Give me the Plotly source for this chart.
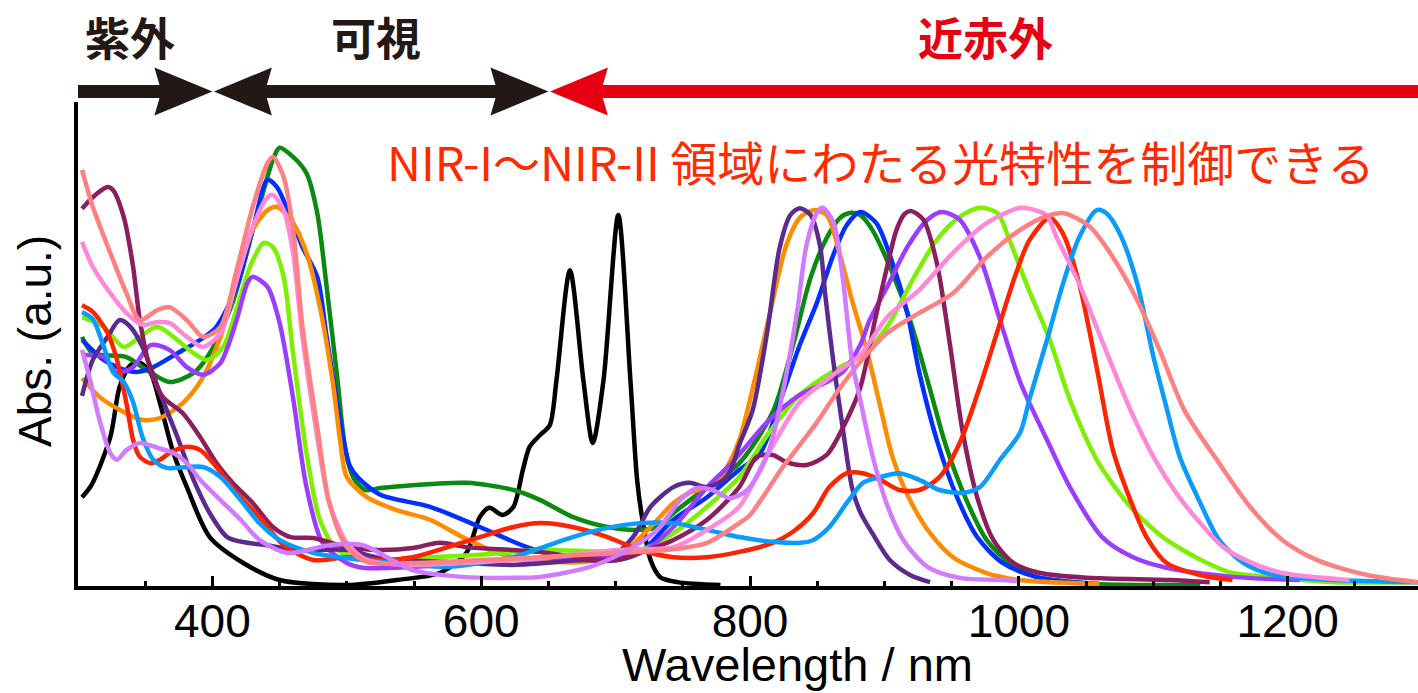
import plotly.graph_objects as go

# ---------------- data (wavelength nm, normalised absorbance) ----------------
black_nm = [303,310,324,331,339,346,354,361,371,381,398,423,450,500,537,569,589,599,606,616,624,631,636,644,651,656,666,676,683,691,702,711,716,720,726,733,746,778]
black_ab = [0.185,0.21,0.31,0.415,0.46,0.465,0.444,0.381,0.277,0.206,0.102,0.048,0.0125,0.002,0.0125,0.027,0.069,0.144,0.163,0.148,0.165,0.242,0.29,0.315,0.335,0.429,0.658,0.429,0.298,0.429,0.773,0.429,0.221,0.1375,0.054,0.019,0.008,0.002]

green_nm = [303,311,336,351,368,386,398,415,430,445,450,460,470,478,485,493,499,505,514,525,549,589,624,644,668,694,718,731,743,768,792,817,832,845,857,867,874,882,891,906,919,932,946,961,976,993,1013,1045,1135]
green_ab = [0.519,0.485,0.477,0.450,0.425,0.444,0.485,0.590,0.742,0.888,0.913,0.894,0.860,0.777,0.623,0.431,0.283,0.225,0.200,0.204,0.210,0.215,0.200,0.179,0.144,0.123,0.117,0.123,0.152,0.206,0.256,0.363,0.502,0.642,0.725,0.767,0.777,0.773,0.742,0.652,0.554,0.429,0.290,0.179,0.096,0.048,0.019,0.006,0.002]

blue_nm = [303,319,331,344,356,374,391,403,418,430,441,448,458,467,478,485,495,502,508,525,562,599,636,676,701,718,743,768,792,807,824,837,850,862,872,882,894,906,917,926,939,954,969,988,1013,1060]
blue_ab = [0.513,0.471,0.454,0.446,0.456,0.485,0.513,0.540,0.623,0.742,0.846,0.831,0.769,0.706,0.644,0.519,0.346,0.252,0.227,0.190,0.165,0.123,0.079,0.054,0.054,0.069,0.138,0.185,0.242,0.273,0.398,0.502,0.592,0.690,0.752,0.779,0.756,0.673,0.569,0.444,0.304,0.185,0.102,0.048,0.019,0.004]

orange_nm = [303,316,331,348,361,378,393,406,418,430,441,448,460,470,480,490,495,500,515,537,562,586,612,636,676,705,731,743,755,768,780,792,802,815,827,837,847,857,867,876,887,897,906,919,934,951,976,1001,1060]
orange_ab = [0.433,0.394,0.367,0.346,0.350,0.381,0.435,0.519,0.638,0.742,0.783,0.790,0.756,0.694,0.581,0.415,0.304,0.227,0.185,0.158,0.138,0.102,0.069,0.054,0.050,0.069,0.138,0.173,0.194,0.206,0.235,0.304,0.412,0.571,0.710,0.767,0.783,0.773,0.689,0.594,0.490,0.373,0.269,0.179,0.110,0.060,0.027,0.0125,0.004]

lime_nm = [303,319,334,346,359,371,386,396,408,418,428,438,445,453,460,470,480,493,515,549,599,644,718,743,768,792,813,837,867,882,902,921,939,956,971,984,993,1006,1023,1038,1058,1083,1107,1122,1140,1159,1196,1234,1297]
lime_ab = [0.560,0.540,0.498,0.519,0.540,0.519,0.485,0.471,0.498,0.577,0.665,0.715,0.706,0.644,0.485,0.277,0.138,0.075,0.054,0.058,0.065,0.075,0.075,0.110,0.165,0.227,0.315,0.398,0.456,0.477,0.540,0.638,0.721,0.769,0.788,0.777,0.721,0.627,0.513,0.388,0.263,0.165,0.102,0.075,0.048,0.027,0.017,0.008,0.008]

violet_nm = [303,319,329,341,354,368,381,393,406,418,426,430,441,450,460,470,482,500,512,549,599,644,718,743,768,787,813,837,857,869,882,889,902,917,932,943,956,971,986,1001,1021,1038,1062,1085,1110,1159,1209]
violet_ab = [0.481,0.477,0.444,0.456,0.502,0.492,0.456,0.440,0.465,0.554,0.631,0.644,0.623,0.548,0.392,0.206,0.090,0.048,0.038,0.040,0.050,0.058,0.069,0.123,0.206,0.258,0.342,0.398,0.425,0.446,0.502,0.554,0.623,0.706,0.763,0.779,0.763,0.685,0.554,0.425,0.304,0.206,0.102,0.060,0.038,0.019,0.0125]

indigo_nm = [303,311,322,331,339,348,361,374,386,398,411,426,441,460,500,525,575,624,676,694,713,726,743,755,768,783,792,802,813,822,830,837,845,852,856,862,869,876,882,891,904,919,934]
indigo_ab = [0.396,0.471,0.519,0.554,0.540,0.498,0.402,0.310,0.221,0.152,0.102,0.090,0.085,0.075,0.075,0.058,0.050,0.044,0.054,0.054,0.102,0.165,0.206,0.215,0.206,0.227,0.294,0.367,0.533,0.704,0.773,0.787,0.773,0.710,0.606,0.467,0.329,0.204,0.154,0.110,0.054,0.023,0.008]

maroon_nm = [303,311,322,326,334,341,346,354,363,378,391,403,415,430,445,458,475,500,525,549,569,589,624,644,676,701,718,743,768,792,805,817,827,842,857,869,882,893,902,909,915,920,929,939,949,958,969,981,996,1016,1051,1112,1142]
maroon_ab = [0.786,0.810,0.831,0.825,0.769,0.665,0.554,0.450,0.394,0.360,0.310,0.256,0.215,0.173,0.123,0.102,0.100,0.081,0.075,0.079,0.090,0.081,0.075,0.071,0.058,0.054,0.069,0.096,0.138,0.206,0.269,0.273,0.258,0.252,0.273,0.329,0.413,0.554,0.665,0.742,0.775,0.781,0.763,0.673,0.498,0.325,0.185,0.096,0.048,0.027,0.017,0.0125,0.008]

red_nm = [303,311,322,329,336,341,346,354,361,368,381,391,403,418,435,453,475,500,525,549,575,599,624,644,668,694,718,743,768,792,817,832,847,859,872,884,897,911,926,941,956,971,986,998,1008,1023,1033,1045,1058,1070,1083,1095,1110,1135,1159]
red_ab = [0.585,0.571,0.527,0.471,0.381,0.304,0.269,0.256,0.263,0.277,0.290,0.283,0.248,0.194,0.144,0.085,0.054,0.060,0.054,0.060,0.081,0.102,0.123,0.131,0.123,0.102,0.075,0.060,0.060,0.071,0.090,0.113,0.152,0.206,0.235,0.235,0.221,0.200,0.200,0.227,0.298,0.415,0.548,0.652,0.721,0.767,0.733,0.629,0.454,0.283,0.179,0.102,0.048,0.023,0.0125]

sky_nm = [303,311,319,326,334,341,348,356,366,381,393,406,421,435,450,475,512,549,575,599,624,644,668,694,718,743,768,792,817,837,847,859,872,884,897,911,926,941,958,971,986,1001,1008,1021,1033,1045,1058,1065,1075,1088,1100,1109,1120,1135,1149,1167,1189,1234,1297]
sky_ab = [0.571,0.556,0.500,0.446,0.425,0.383,0.310,0.263,0.246,0.248,0.248,0.227,0.179,0.131,0.096,0.069,0.054,0.044,0.040,0.048,0.060,0.079,0.102,0.121,0.131,0.131,0.117,0.102,0.092,0.090,0.096,0.123,0.173,0.215,0.227,0.235,0.221,0.200,0.194,0.206,0.263,0.320,0.390,0.513,0.631,0.727,0.783,0.777,0.735,0.631,0.479,0.381,0.267,0.173,0.096,0.048,0.023,0.0125,0.008]

pink_nm = [303,311,324,336,348,359,368,381,393,406,418,430,441,445,453,460,467,478,487,500,515,549,599,644,701,743,768,792,813,837,862,882,902,926,951,976,1001,1012,1021,1028,1045,1062,1083,1101,1118,1135,1152,1172,1196,1246]
pink_ab = [0.717,0.665,0.610,0.569,0.544,0.550,0.548,0.519,0.498,0.527,0.638,0.748,0.810,0.815,0.783,0.694,0.519,0.310,0.173,0.090,0.054,0.044,0.050,0.058,0.075,0.081,0.117,0.165,0.273,0.383,0.440,0.481,0.560,0.617,0.694,0.756,0.788,0.783,0.771,0.727,0.629,0.510,0.367,0.265,0.190,0.131,0.081,0.050,0.027,0.0125]

salmon_nm = [303,311,324,336,346,359,368,381,393,406,418,430,441,445,453,460,467,478,487,500,515,549,599,644,701,738,768,792,800,824,850,867,882,902,926,951,976,1001,1021,1033,1053,1070,1088,1105,1123,1149,1172,1196,1222,1259,1297]
salmon_ab = [0.867,0.790,0.694,0.610,0.554,0.575,0.581,0.554,0.519,0.540,0.658,0.790,0.881,0.894,0.852,0.742,0.540,0.331,0.173,0.081,0.050,0.048,0.054,0.060,0.069,0.075,0.090,0.131,0.148,0.246,0.342,0.413,0.467,0.527,0.569,0.610,0.685,0.742,0.771,0.777,0.748,0.685,0.596,0.490,0.367,0.256,0.165,0.096,0.054,0.023,0.008]

lavender_nm = [303,309,316,324,329,336,346,359,371,381,391,406,421,435,456,487,512,530,549,586,624,644,681,705,731,748,760,772,785,798,813,824,835,842,850,854,862,869,876,882,891,902,914,932,956,988,1001]
lavender_ab = [0.492,0.429,0.346,0.277,0.263,0.283,0.298,0.288,0.277,0.256,0.221,0.179,0.138,0.096,0.069,0.085,0.085,0.060,0.033,0.019,0.017,0.019,0.040,0.069,0.117,0.179,0.204,0.200,0.183,0.200,0.273,0.398,0.571,0.710,0.779,0.788,0.758,0.642,0.467,0.388,0.273,0.169,0.096,0.040,0.017,0.0125,0.010]

tick_vals = [400, 600, 800, 1000, 1200]
tick_text = ["400", "600", "800", "1000", "1200"]

region_labels = ["紫外", "可視", "近赤外"]
region_bounds = [(300, 400), (400, 650), (650, 1297)]
region_label_nm = [339, 522, 975]
note_text = "NIR-I〜NIR-II 領域にわたる光特性を制御できる"

# ---------------- figure ----------------
series = [
    (black_nm, black_ab, "#000000"),
    (green_nm, green_ab, "#0B8A12"),
    (blue_nm, blue_ab, "#0030FF"),
    (orange_nm, orange_ab, "#FF8C00"),
    (lime_nm, lime_ab, "#7CF000"),
    (violet_nm, violet_ab, "#9B3CFF"),
    (indigo_nm, indigo_ab, "#5B2A8E"),
    (maroon_nm, maroon_ab, "#8B1E5E"),
    (red_nm, red_ab, "#FF2400"),
    (sky_nm, sky_ab, "#0A9BFF"),
    (pink_nm, pink_ab, "#FF88D8"),
    (salmon_nm, salmon_ab, "#FF8080"),
    (lavender_nm, lavender_ab, "#D27BFF"),
]

fig = go.Figure()
for xs, ys, col in series:
    assert len(xs) == len(ys)
    fig.add_trace(go.Scatter(x=xs, y=ys, mode="lines",
                             line=dict(color=col, width=4.5, shape="spline", smoothing=0.8),
                             hoverinfo="skip", showlegend=False))

X0, X1 = 300, 1297
W, H = 1418, 693
ML, MR, MT, MB = 78, 0, 102, 107
PW = W - ML - MR
PH = H - MT - MB
Y1 = PH / 480.0

def paper_x(nm):
    return (nm - X0) / (X1 - X0)

bar_y = 1 + 10.5 / PH   # arrow line centre, above plot top
BLACK = "#231815"
RED = "#E60012"

shapes = []
head_r = "M0,0 L-58,24 L-51,0 L-58,-24 Z"
head_l = "M0,0 L58,24 L51,0 L58,-24 Z"

def bar(x0, x1, color):
    shapes.append(dict(type="rect", xref="paper", yref="paper", x0=x0, x1=x1,
                       ysizemode="pixel", yanchor=bar_y, y0=-6.5, y1=6.5,
                       fillcolor=color, line=dict(width=0), layer="above"))

def head(tip, path, color):
    shapes.append(dict(type="path", xref="paper", yref="paper",
                       xsizemode="pixel", ysizemode="pixel",
                       xanchor=tip, yanchor=bar_y, path=path,
                       fillcolor=color, line=dict(width=0), layer="above"))

(a0, a1), (b0, b1), (c0, c1) = region_bounds
bar(paper_x(a0), paper_x(a1) - 30 / PW, BLACK)
head(paper_x(a1), head_r, BLACK)
bar(paper_x(b0) + 30 / PW, paper_x(b1) - 30 / PW, BLACK)
head(paper_x(b0) + 1.5 / PW, head_l, BLACK)
head(paper_x(b1), head_r, BLACK)
bar(paper_x(c0) + 30 / PW, 1.01, RED)
head(paper_x(c0) + 1.5 / PW, head_l, RED)

annotations = []
for lab, nm, col in zip(region_labels, region_label_nm, [BLACK, BLACK, RED]):
    annotations.append(dict(text="<b>" + lab + "</b>", x=paper_x(nm), y=1 + 66 / PH,
                            xref="paper", yref="paper", showarrow=False,
                            xanchor="center", yanchor="middle",
                            font=dict(family="Noto Sans CJK JP", size=45, color=col)))

annotations.append(dict(text=note_text, x=(880 - 78) / PW, y=(578 - 152.5) / PH,
                        xref="paper", yref="paper", showarrow=False,
                        xanchor="center", yanchor="middle",
                        font=dict(family="Noto Sans CJK JP", size=47, color="#FF2A00")))

annotations.append(dict(text="Wavelength / nm", x=paper_x(835), y=-78 / PH,
                        xref="paper", yref="paper", showarrow=False,
                        xanchor="center", yanchor="middle",
                        font=dict(family="Liberation Sans", size=47, color="black")))
annotations.append(dict(text="Abs. (a.u.)", x=-(78 - 35) / PW, y=(586 - 341) / PH,
                        xref="paper", yref="paper", showarrow=False, textangle=-90,
                        xanchor="center", yanchor="middle",
                        font=dict(family="Liberation Sans", size=46, color="black")))

fig.update_layout(
    width=W, height=H,
    margin=dict(l=ML, r=MR, t=MT, b=MB, autoexpand=False),
    paper_bgcolor="white", plot_bgcolor="white",
    showlegend=False,
    shapes=shapes, annotations=annotations,
    xaxis=dict(range=[X0, X1], tickvals=tick_vals, ticktext=tick_text,
               ticks="inside", ticklen=10, tickwidth=3, tickcolor="black",
               showline=True, linewidth=4, linecolor="black", mirror=False,
               showgrid=False, zeroline=False, ticklabelstandoff=-8,
               tickfont=dict(family="Liberation Sans", size=46, color="black"),
               minor=dict(dtick=50, tick0=0, ticks="inside", ticklen=5, tickwidth=2.5,
                          tickcolor="black", showgrid=False)),
    yaxis=dict(range=[0, Y1], showticklabels=False, ticks="",
               showline=True, linewidth=4, linecolor="black",
               showgrid=False, zeroline=False),
)

fig.write_html("out.html", config={"displayModeBar": False},
               post_script="document.body.style.margin='0px';")
